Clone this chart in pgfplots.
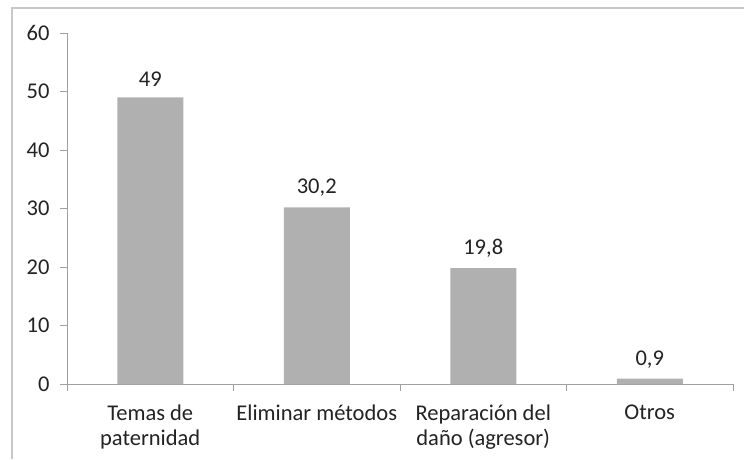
\documentclass[border=0pt]{standalone}
\usepackage{fontspec}
\setmainfont{Carlito}
\usepackage{pgfplots}
\pgfplotsset{compat=1.18}
\definecolor{barc}{RGB}{176,176,176}
\definecolor{axc}{RGB}{160,160,160}
\definecolor{frame}{RGB}{200,200,200}
\definecolor{txt}{RGB}{35,35,35}
\begin{document}
\begin{tikzpicture}[x=1pt,y=1pt]
\useasboundingbox (0,0) rectangle (744,459);
\fill[white] (0,0) rectangle (744,459);
\draw[frame,line width=2.5pt] (12,0) -- (12,451) -- (744,451);
\begin{axis}[
  at={(67pt,75pt)}, anchor=south west,
  scale only axis, width=666pt, height=351pt,
  xmin=-0.5, xmax=3.5, ymin=0, ymax=60,
  axis x line*=bottom, axis y line*=left,
  axis line style={axc, line width=1pt},
  ytick={0,10,...,60},
  xtick={0,1,2,3},
  xticklabels={{Temas de\\paternidad},{Eliminar métodos},{Reparación del\\daño (agresor)},{Otros}},
  xticklabel style={align=center, text=txt, font=\fontsize{22.5}{25}\selectfont, yshift=-10pt},
  yticklabel style={text=txt, font=\fontsize{22.5}{25}\selectfont, xshift=-7pt},
  /pgf/number format/assume math mode=true,
  major x tick style={draw=none},
  minor xtick={-0.5,0.5,1.5,2.5,3.5},
  minor x tick style={axc, line width=1pt},
  minor tick length=7pt,
  major tick length=7pt,
  tick align=outside,
  y tick style={axc, line width=1pt},
  ybar, bar width=66pt,
  nodes near coords,
  nodes near coords style={text=txt, font=\fontsize{22.5}{25}\selectfont, yshift=7pt},
  point meta=explicit symbolic,
  clip=false,
]
\addplot[fill=barc, draw=none] coordinates {(0,49)[49] (1,30.2)[30,2] (2,19.8)[19,8] (3,0.9)[0,9]};
\end{axis}
\end{tikzpicture}
\end{document}
